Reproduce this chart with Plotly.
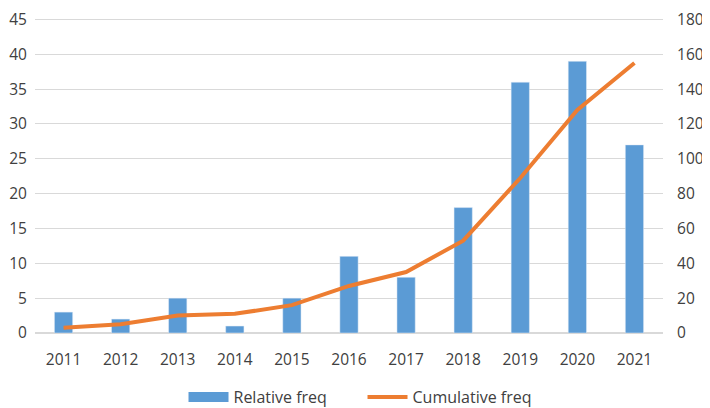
import plotly.graph_objects as go

years = ['2011', '2012', '2013', '2014', '2015', '2016', '2017', '2018', '2019', '2020', '2021']
relative_freq = [3, 2, 5, 1, 5, 11, 8, 18, 36, 39, 27]
cumulative_freq = [3, 5, 10, 11, 16, 27, 35, 53, 89, 128, 155]

BLUE = '#5B9BD5'
ORANGE = '#ED7D31'

fig = go.Figure()

fig.add_trace(go.Bar(
    x=years,
    y=relative_freq,
    name='Relative freq',
    marker_color=BLUE,
    width=0.32,
    showlegend=False,
))

# legend stand-in so the bar key is drawn as a wide block, like Excel
fig.add_trace(go.Scatter(
    x=[None], y=[None],
    name='Relative freq',
    mode='lines',
    line=dict(color=BLUE, width=10),
))

fig.add_trace(go.Scatter(
    x=years,
    y=cumulative_freq,
    name='Cumulative freq',
    mode='lines',
    line=dict(color=ORANGE, width=4),
    yaxis='y2',
))

# page body adds ~8px offset, so figure is sized a bit smaller
fig.update_layout(
    width=702,
    height=400,
    margin=dict(l=27, r=47, t=8, b=75),
    plot_bgcolor='white',
    paper_bgcolor='white',
    font=dict(family='Open Sans, Liberation Sans, sans-serif', size=15.5, color='#404040'),
    xaxis=dict(showgrid=False, showline=False, ticks='outside', ticklen=12,
               tickcolor='white', automargin=False),
    yaxis=dict(range=[0, 45.5], dtick=5, gridcolor='#D9D9D9', gridwidth=1,
               zeroline=True, zerolinecolor='#D9D9D9', ticks='outside', ticklen=4,
               tickcolor='white', automargin=False, ticklabeloverflow='allow'),
    yaxis2=dict(range=[0, 182], dtick=20, overlaying='y', side='right',
                showgrid=False, zeroline=False, ticks='outside', ticklen=10,
                tickcolor='white', automargin=False, ticklabeloverflow='allow'),
    legend=dict(orientation='h', x=0.505, xanchor='center', xref='container',
                y=0.0275, yanchor='middle', yref='container', itemwidth=40,
                entrywidth=124, font=dict(size=16)),
    showlegend=True,
)

fig.write_html("out.html")
